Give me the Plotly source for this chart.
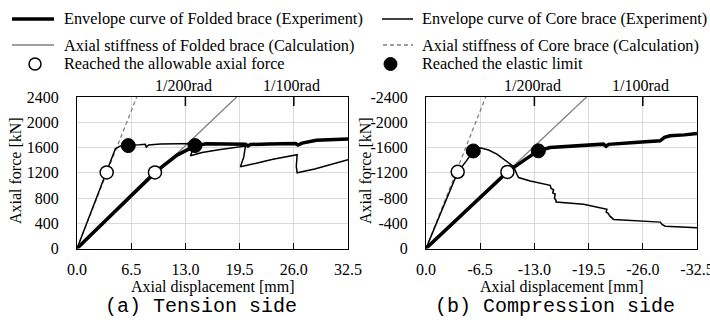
import plotly.graph_objects as go

W, H = 710, 320

# ---------------- data ----------------
# (a) Tension side
a_fold_calc_x = [0, 19.15]
a_fold_calc_y = [0, 2400]
a_core_calc_x = [0, 7.16]
a_core_calc_y = [0, 2400]

a_fold_x = [0, 4.0, 9.35, 12.0, 14.15, 15.5, 17.5, 20.2, 20.5, 20.8, 23.0, 26.2, 26.5, 27.0, 28.7, 30.5, 32.5]
a_fold_y = [0, 520, 1205, 1480, 1626, 1660, 1660, 1652, 1625, 1648, 1655, 1665, 1640, 1670, 1715, 1728, 1735]

a_core_x = [0, 3.56, 4.6, 5.2, 6.15, 7.5, 8.2, 8.3, 8.6, 10.0, 12.0, 14.2, 13.6, 15.0, 17.0, 20.2, 20.0, 19.6, 21.5, 23.5, 26.4, 26.3, 26.4, 28.5, 32.5]
a_core_y = [0, 1205, 1580, 1625, 1640, 1645, 1650, 1605, 1640, 1655, 1660, 1662, 1470, 1520, 1565, 1622, 1450, 1295, 1350, 1415, 1485, 1300, 1200, 1260, 1405]

a_open_x = [3.56, 9.35]
a_open_y = [1205, 1205]
a_fill_x = [6.15, 14.15]
a_fill_y = [1630, 1630]

# (b) Compression side
b_fold_calc_x = [0, -19.25]
b_fold_calc_y = [0, -2400]
b_core_calc_x = [0, -7.16]
b_core_calc_y = [0, -2400]

b_fold_x = [0, -5.0, -9.76, -12.0, -13.47, -14.87, -18.0, -21.27, -21.6, -21.9, -25.0, -28.07, -28.6, -29.27, -31.0, -32.5]
b_fold_y = [0, -620, -1213, -1420, -1547, -1600, -1630, -1653, -1620, -1650, -1680, -1706, -1760, -1785, -1800, -1822]

b_core_x = [0, -3.8, -4.8, -5.67, -6.5, -7.5, -8.5, -10.5, -10.9, -11.1, -12.5, -14.5, -14.9, -15.0, -15.3, -15.2,
            -15.5, -15.4, -15.6, -15.6, -18.9, -21.7, -21.6, -21.9, -22.0, -22.5, -28.1, -28.3, -28.7, -32.5]
b_core_y = [0, -1210, -1380, -1540, -1595, -1560, -1494, -1298, -1176, -1124, -1070, -1017, -1000, -950, -930, -880,
            -860, -800, -760, -736, -700, -620, -580, -550, -520, -461, -418, -380, -354, -329]

b_open_x = [-3.8, -9.76]
b_open_y = [-1215, -1213]
b_fill_x = [-5.67, -13.47]
b_fill_y = [-1545, -1547]

x_ticks_a = [0, 6.5, 13.0, 19.5, 26.0, 32.5]
x_labels_a = ["0.0", "6.5", "13.0", "19.5", "26.0", "32.5"]
x_ticks_b = [0, -6.5, -13.0, -19.5, -26.0, -32.5]
x_labels_b = ["0.0", "-6.5", "-13.0", "-19.5", "-26.0", "-32.5"]
y_ticks_a = [0, 400, 800, 1200, 1600, 2000, 2400]
y_labels_a = ["0", "400", "800", "1200", "1600", "2000", "2400"]
y_ticks_b = [0, -400, -800, -1200, -1600, -2000, -2400]
y_labels_b = ["0", "-400", "-800", "-1200", "-1600", "-2000", "-2400"]

rad_labels = ["1/200rad", "1/100rad"]
rad_x_a = [13.0, 26.0]
rad_x_b = [-13.0, -26.0]

legend_labels = [
    "Envelope curve of Folded brace (Experiment)",
    "Envelope curve of Core brace (Experiment)",
    "Axial stiffness of Folded brace (Calculation)",
    "Axial stiffness of Core brace (Calculation)",
    "Reached the allowable axial force",
    "Reached the elastic limit",
]

# ---------------- styles ----------------
SERIF = "Liberation Serif, Times New Roman, serif"
MONO = "Liberation Mono, monospace"
BLACK = "#000000"
GRAY = "#808080"
GRID = "#d9d9d9"

fig = go.Figure()

def add_panel(xa, ya, fcx, fcy, ccx, ccy, fx, fy, cx, cy, ox, oy, px, py):
    fig.add_trace(go.Scatter(x=fcx, y=fcy, mode="lines", xaxis=xa, yaxis=ya,
                             line=dict(color=GRAY, width=1.3), showlegend=False))
    fig.add_trace(go.Scatter(x=ccx, y=ccy, mode="lines", xaxis=xa, yaxis=ya,
                             line=dict(color=GRAY, width=1.3, dash="4px,3px"), showlegend=False))
    fig.add_trace(go.Scatter(x=fx, y=fy, mode="lines", xaxis=xa, yaxis=ya,
                             line=dict(color=BLACK, width=3.5), showlegend=False))
    fig.add_trace(go.Scatter(x=cx, y=cy, mode="lines", xaxis=xa, yaxis=ya,
                             line=dict(color=BLACK, width=1.5), showlegend=False))
    fig.add_trace(go.Scatter(x=ox, y=oy, mode="markers", xaxis=xa, yaxis=ya,
                             marker=dict(symbol="circle", size=13, color="white",
                                         line=dict(color=BLACK, width=1.5)), showlegend=False))
    fig.add_trace(go.Scatter(x=px, y=py, mode="markers", xaxis=xa, yaxis=ya,
                             marker=dict(symbol="circle", size=14, color=BLACK,
                                         line=dict(color=BLACK, width=1)), showlegend=False))

add_panel("x", "y", a_fold_calc_x, a_fold_calc_y, a_core_calc_x, a_core_calc_y,
          a_fold_x, a_fold_y, a_core_x, a_core_y, a_open_x, a_open_y, a_fill_x, a_fill_y)
add_panel("x2", "y2", b_fold_calc_x, b_fold_calc_y, b_core_calc_x, b_core_calc_y,
          b_fold_x, b_fold_y, b_core_x, b_core_y, b_open_x, b_open_y, b_fill_x, b_fill_y)

# pixel geometry of plot areas
AX0, AX1 = 77, 348
BX0, BX1 = 426, 697
YT, YB = 97, 248.5

def px(xp):
    return xp / W

def py(yp):
    return 1 - yp / H

common_x = dict(showline=True, linecolor=BLACK, linewidth=1, mirror=True, automargin=False,
                showgrid=True, gridcolor=GRID, gridwidth=1, zeroline=False,
                ticks="inside", ticklen=6, tickcolor=BLACK, tickwidth=1, ticklabeloverflow="allow",
                tickfont=dict(family=SERIF, size=16, color=BLACK), ticklabelstandoff=6)
common_y = dict(showline=True, linecolor=BLACK, linewidth=1, mirror=True, automargin=False,
                showgrid=True, gridcolor=GRID, gridwidth=1, zeroline=False, ticklabeloverflow="allow",
                ticks="", tickfont=dict(family=SERIF, size=16, color=BLACK), ticklabelstandoff=14)

fig.update_layout(
    width=W, height=H, margin=dict(l=0, r=0, t=0, b=0, pad=0),
    paper_bgcolor="white", plot_bgcolor="white", showlegend=False,
    font=dict(family=SERIF, size=16, color=BLACK),
    xaxis=dict(domain=[px(AX0), px(AX1)], range=[0, 32.5], anchor="y",
               tickvals=x_ticks_a, ticktext=x_labels_a, **common_x),
    yaxis=dict(domain=[py(YB), py(YT)], range=[0, 2400], anchor="x",
               tickvals=y_ticks_a, ticktext=y_labels_a, **common_y),
    xaxis2=dict(domain=[px(BX0), px(BX1)], range=[0, -32.5], anchor="y2",
                tickvals=x_ticks_b, ticktext=x_labels_b, **common_x),
    yaxis2=dict(domain=[py(YB), py(YT)], range=[0, -2400], anchor="x2",
                tickvals=y_ticks_b, ticktext=y_labels_b, **common_y),
)

shapes = []
annotations = []

def ann(x, y, text, font, xref="paper", xanchor="center", textangle=0, xshift=0):
    annotations.append(dict(xref=xref, yref="paper", x=x, y=y, text=text, showarrow=False,
                            xanchor=xanchor, yanchor="middle", textangle=textangle, xshift=xshift,
                            font=font))

serif16 = dict(family=SERIF, size=16, color=BLACK)

# rotation markers at top
for xr, yr, xs, top in (("x", "y", rad_x_a, 2400), ("x2", "y2", rad_x_b, -2400)):
    for lab, xv in zip(rad_labels, xs):
        shapes.append(dict(type="line", xref=xr, yref=yr, x0=xv, x1=xv, y0=top, y1=top * 0.94,
                           line=dict(color=BLACK, width=1.5)))
        ann(xv, py(85), lab, serif16, xref=xr, xshift=-2)

# axis titles
for cx in ((AX0 + AX1) / 2, (BX0 + BX1) / 2):
    ann(px(cx), py(287), "Axial displacement [mm]", serif16)
for cx in (15, 365):
    ann(px(cx), py(171), "Axial force [kN]", serif16, textangle=-90)

# panel captions
ann(px(201), py(306), "(a) Tension side", dict(family=MONO, size=20, color=BLACK))
ann(px(555), py(306), "(b) Compression side", dict(family=MONO, size=20, color=BLACK))

# legend (manual)
rows = [19, 45, 64]
shapes.append(dict(type="line", xref="paper", yref="paper", x0=px(12), x1=px(54), y0=py(rows[0]), y1=py(rows[0]),
                   line=dict(color=BLACK, width=3.5)))
shapes.append(dict(type="line", xref="paper", yref="paper", x0=px(12), x1=px(54), y0=py(rows[1]), y1=py(rows[1]),
                   line=dict(color=GRAY, width=1.3)))
shapes.append(dict(type="circle", xref="paper", yref="paper", x0=px(29), x1=px(41), y0=py(rows[2] + 6), y1=py(rows[2] - 6),
                   line=dict(color=BLACK, width=1.5), fillcolor="white"))
shapes.append(dict(type="line", xref="paper", yref="paper", x0=px(382), x1=px(413), y0=py(rows[0]), y1=py(rows[0]),
                   line=dict(color=BLACK, width=1.5)))
shapes.append(dict(type="line", xref="paper", yref="paper", x0=px(383), x1=px(413), y0=py(rows[1]), y1=py(rows[1]),
                   line=dict(color=GRAY, width=1.3, dash="4px,3px")))
shapes.append(dict(type="circle", xref="paper", yref="paper", x0=px(384), x1=px(397), y0=py(rows[2] + 6.5), y1=py(rows[2] - 6.5),
                   line=dict(color=BLACK, width=1), fillcolor=BLACK))

legend_font = dict(family=SERIF, size=16.3, color=BLACK)
text_pos = [(62, rows[0]), (420, rows[0]), (62, rows[1]), (420, rows[1]), (62, rows[2]), (420, rows[2])]
for lab, (tx, ty) in zip(legend_labels, text_pos):
    ann(px(tx), py(ty), lab, legend_font, xanchor="left")

fig.update_layout(shapes=shapes, annotations=annotations)

fig.write_html("out.html")
